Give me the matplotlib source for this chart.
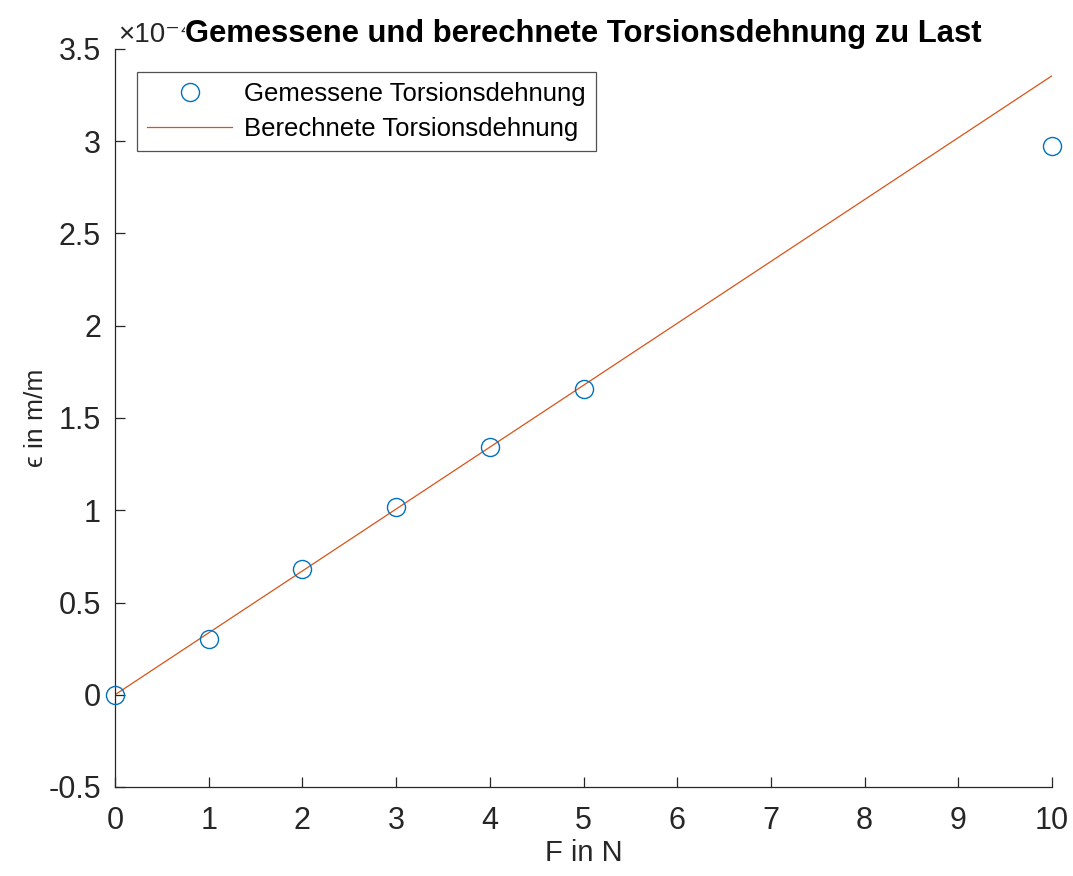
import matplotlib
matplotlib.use("Agg")
import matplotlib.pyplot as plt
import numpy as np

# Data (values in 1e-4 m/m)
force_measured = [0, 1, 2, 3, 4, 5, 10]
strain_measured = [0.0, 0.30, 0.68, 1.02, 1.345, 1.655, 2.975]
force_calc = [0, 10]
strain_calc = [0.0, 3.355]
exponent_label = "×10⁻⁴"

x_ticks = list(range(0, 11))
y_ticks = [-0.5, 0, 0.5, 1, 1.5, 2, 2.5, 3, 3.5]
y_tick_labels = ["-0.5", "0", "0.5", "1", "1.5", "2", "2.5", "3", "3.5"]

plt.rcParams['font.family'] = ['Liberation Sans', 'DejaVu Sans']

fig = plt.figure(figsize=(10.73, 8.76), dpi=100)
ax = fig.add_axes([115/1073, 1-787/876, (1052-115)/1073, (787-49)/876])

txt_col = '#262626'
ax.plot(force_calc, strain_calc, color='#D95319', lw=0.9, label='Berechnete Torsionsdehnung', zorder=2)
ax.plot(force_measured, strain_measured, 'o', mfc='none', mec='#0072BD', ms=13, mew=1.0,
        label='Gemessene Torsionsdehnung', zorder=3, clip_on=False)

ax.set_xlim(0, 10)
ax.set_ylim(-0.5, 3.5)
ax.set_xticks(x_ticks)
ax.set_yticks(y_ticks)
ax.set_yticklabels(y_tick_labels)
ax.tick_params(direction='in', length=7, width=0.9, colors=txt_col, labelsize=22)
ax.tick_params(axis='x', pad=14)
ax.tick_params(axis='y', pad=10)
for s in ['top', 'right']:
    ax.spines[s].set_visible(False)
for s in ['left', 'bottom']:
    ax.spines[s].set_color(txt_col)
    ax.spines[s].set_linewidth(0.9)

ax.set_xlabel('F in N', fontsize=21, color=txt_col, labelpad=2)
ax.set_ylabel('ϵ in m/m', fontsize=19, color=txt_col, labelpad=0)

ax.text(0.003, 1.0095, exponent_label, transform=ax.transAxes, fontsize=20,
        color=txt_col, ha='left', va='baseline', zorder=1)

ax.set_title('Gemessene und berechnete Torsionsdehnung zu Last', fontsize=22.3, fontweight='bold',
             color='black', pad=4, zorder=5,
             bbox=dict(facecolor='white', edgecolor='none', pad=0))

handles, labels = ax.get_legend_handles_labels()
leg = ax.legend([handles[1], handles[0]], [labels[1], labels[0]], loc='upper left',
                bbox_to_anchor=(22/937, 1-23/738), fontsize=18.5, frameon=True, fancybox=False,
                edgecolor=txt_col, borderpad=0.4, labelspacing=0.4, handlelength=3.3,
                handletextpad=0.45, borderaxespad=0)
leg.get_frame().set_linewidth(0.9)

fig.savefig('out.png', dpi=100, facecolor='white')
